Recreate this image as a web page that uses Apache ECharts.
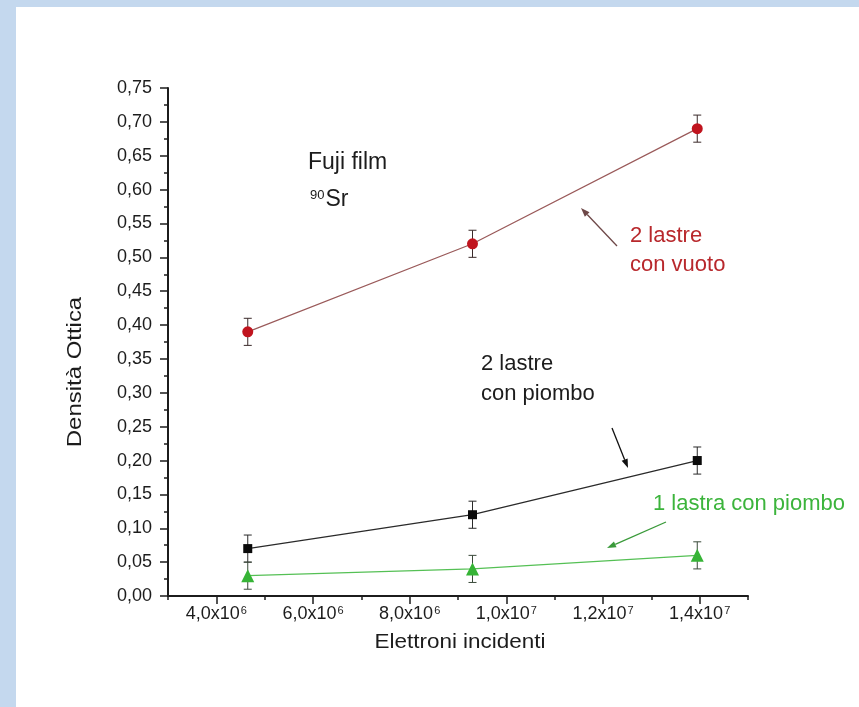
<!DOCTYPE html>
<html>
<head>
<meta charset="utf-8">
<script src="https://cdn.jsdelivr.net/npm/echarts@6/dist/echarts.min.js"></script>
<style>
html, body { margin: 0; padding: 0; background: #ffffff; }
#chart { width: 859px; height: 707px; }
</style>
</head>
<body>
<div id="chart"></div>
<script>
// Incident electrons (x) for the three exposures
const electrons = [4.65e6, 9.3e6, 1.395e7];

// Optical density for each configuration, with its uncertainty
const vuoto2 = [0.39, 0.52, 0.69];
const vuoto2Err = [0.02, 0.02, 0.02];
const piombo2 = [0.07, 0.12, 0.20];
const piombo2Err = [0.02, 0.02, 0.02];
const piombo1 = [0.03, 0.04, 0.06];
const piombo1Err = [0.02, 0.02, 0.02];

// Labelled x ticks
const xTickValues = [4e6, 6e6, 8e6, 1e7, 1.2e7, 1.4e7];

const FONT = '"Liberation Sans", Arial, sans-serif';
const INK = '#1c1c1c';

function points(ys) { return electrons.map((x, i) => [x, ys[i]]); }
function withErr(ys, es) { return electrons.map((x, i) => [x, ys[i], es[i]]); }

function sciLabel(v) {
  const exp = Math.floor(Math.log10(v) + 1e-9);
  const mant = (v / Math.pow(10, exp)).toFixed(1).replace('.', ',');
  return '{m|' + mant + 'x10}{e|' + exp + '}';
}

function errorBars(name, ys, es, color) {
  return {
    type: 'custom',
    name: name + ' err',
    z: 1,
    silent: true,
    data: withErr(ys, es),
    encode: { x: 0, y: 1 },
    renderItem: function (params, api) {
      const x = api.value(0), y = api.value(1), e = api.value(2);
      const hi = api.coord([x, y + e]);
      const lo = api.coord([x, y - e]);
      const hw = 4;
      const st = { stroke: color, lineWidth: 1 };
      return {
        type: 'group',
        children: [
          { type: 'line', shape: { x1: hi[0], y1: hi[1], x2: lo[0], y2: lo[1] }, style: st },
          { type: 'line', shape: { x1: hi[0] - hw, y1: hi[1], x2: hi[0] + hw, y2: hi[1] }, style: st },
          { type: 'line', shape: { x1: lo[0] - hw, y1: lo[1], x2: lo[0] + hw, y2: lo[1] }, style: st }
        ]
      };
    }
  };
}

function arrow(x1, y1, x2, y2, color) {
  const ang = Math.atan2(y2 - y1, x2 - x1);
  const len = 9, hw = 3.2;
  const bx = x2 - len * Math.cos(ang), by = y2 - len * Math.sin(ang);
  const px = -Math.sin(ang) * hw, py = Math.cos(ang) * hw;
  return [
    { type: 'line', shape: { x1: x1, y1: y1, x2: bx, y2: by }, style: { stroke: color, lineWidth: 1.3 } },
    { type: 'polygon', shape: { points: [[x2, y2], [bx + px, by + py], [bx - px, by - py]] }, style: { fill: color } }
  ];
}

function label(text, x, y, color, size) {
  return {
    type: 'text', x: x, y: y,
    style: { text: text, fill: color, font: size + 'px ' + FONT, textVerticalAlign: 'middle' }
  };
}

const chart = echarts.init(document.getElementById('chart'), null, { renderer: 'canvas' });

const axisStroke = { color: INK, width: 2 };

chart.setOption({
  backgroundColor: '#ffffff',
  animation: false,
  grid: { left: 168, right: 111, top: 88, bottom: 111, containLabel: false },
  xAxis: [
    {
      type: 'value', min: 3e6, max: 1.5e7, interval: 1e6,
      axisLine: { show: true, onZero: false, lineStyle: axisStroke },
      axisTick: { show: true, inside: false, length: 4, lineStyle: { color: INK, width: 1.5 } },
      splitLine: { show: false },
      axisLabel: {
        customValues: xTickValues,
        margin: 9,
        formatter: sciLabel,
        rich: {
          m: { fontFamily: FONT, fontSize: 18, color: INK },
          e: { fontFamily: FONT, fontSize: 11, color: INK, verticalAlign: 'top', padding: [0, 0, 8, 1] }
        }
      }
    },
    {
      type: 'value', min: 3e6, max: 1.5e7, position: 'bottom',
      axisLine: { show: false },
      axisTick: { show: true, customValues: xTickValues, length: 8, lineStyle: { color: INK, width: 1.5 } },
      axisLabel: { show: false },
      splitLine: { show: false }
    }
  ],
  yAxis: {
    type: 'value', min: 0, max: 0.75, interval: 0.05,
    axisLine: { show: true, lineStyle: axisStroke },
    axisTick: { show: true, length: 8, lineStyle: { color: INK, width: 1.5 } },
    minorTick: { show: true, splitNumber: 2, length: 4, lineStyle: { color: INK, width: 1.5 } },
    splitLine: { show: false },
    axisLabel: {
      margin: 16,
      fontFamily: FONT, fontSize: 18, color: INK,
      formatter: v => v.toFixed(2).replace('.', ',')
    }
  },
  series: [
    errorBars('2 lastre con vuoto', vuoto2, vuoto2Err, '#3a2a2a'),
    errorBars('2 lastre con piombo', piombo2, piombo2Err, '#2a2a2a'),
    errorBars('1 lastra con piombo', piombo1, piombo1Err, '#3a4a3a'),
    {
      type: 'line', name: '2 lastre con vuoto', data: points(vuoto2), z: 3,
      symbol: 'circle', symbolSize: 11,
      itemStyle: { color: '#c0141e' },
      lineStyle: { color: '#9a5a5a', width: 1.2 }
    },
    {
      type: 'line', name: '2 lastre con piombo', data: points(piombo2), z: 3,
      symbol: 'rect', symbolSize: 9,
      itemStyle: { color: '#0a0a0a' },
      lineStyle: { color: '#2a2a2a', width: 1.3 }
    },
    {
      type: 'line', name: '1 lastra con piombo', data: points(piombo1), z: 3,
      symbol: 'triangle', symbolSize: 13,
      itemStyle: { color: '#36b436' },
      lineStyle: { color: '#55c055', width: 1.2 }
    }
  ],
  graphic: [
    // page backdrop strips
    { type: 'rect', shape: { x: 0, y: 0, width: 859, height: 7 }, style: { fill: '#c4d8ee' }, z: 0 },
    { type: 'rect', shape: { x: 0, y: 0, width: 16, height: 707 }, style: { fill: '#c4d8ee' }, z: 0 },

    // axis titles
    {
      type: 'text', x: 460, y: 642, scaleX: 1.07,
      style: { text: 'Elettroni incidenti', fill: INK, font: '21px ' + FONT, textAlign: 'center', textVerticalAlign: 'middle' }
    },
    {
      type: 'text', x: 75, y: 372, rotation: Math.PI / 2, scaleX: 1.14,
      style: { text: 'Densità Ottica', fill: INK, font: '21px ' + FONT, textAlign: 'center', textVerticalAlign: 'middle' }
    },

    // plot notes
    label('Fuji film', 308, 163, INK, 23),
    {
      type: 'text', x: 310, y: 200,
      style: {
        text: '{s|90}{b|Sr}', textVerticalAlign: 'middle',
        rich: {
          s: { fontFamily: FONT, fontSize: 13, fill: INK, verticalAlign: 'top', padding: [0, 1, 10, 0] },
          b: { fontFamily: FONT, fontSize: 23, fill: INK }
        }
      }
    },
    label('2 lastre', 630, 236, '#b8282c', 22),
    label('con vuoto', 630, 265, '#b8282c', 22),
    label('2 lastre', 481, 364, INK, 22),
    label('con piombo', 481, 394, INK, 22),
    label('1 lastra con piombo', 653, 504, '#3cb43c', 22),
    ...arrow(617, 246, 581, 208, '#6e4848'),
    ...arrow(612, 428, 628, 468, '#111111'),
    ...arrow(666, 522, 607, 548, '#3a9a3a')
  ]
});
</script>
</body>
</html>
